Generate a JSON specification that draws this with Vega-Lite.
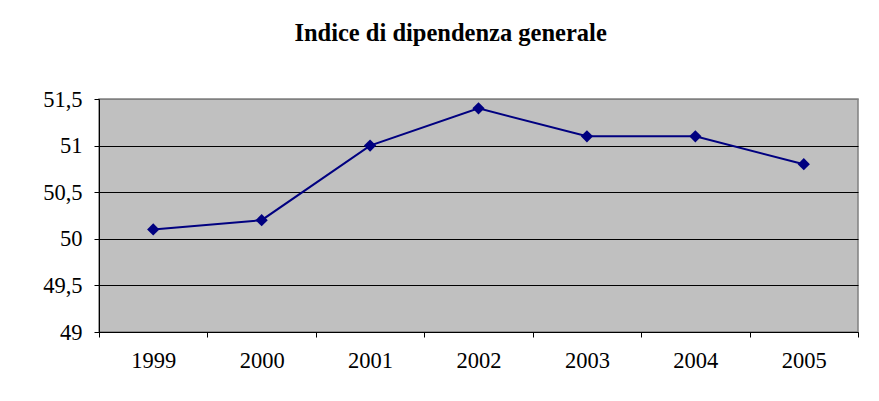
{
  "$schema": "https://vega.github.io/schema/vega-lite/v6.json",
  "width": 759,
  "height": 233,
  "autosize": "none",
  "padding": {"left": 99, "top": 99, "right": 21, "bottom": 69},
  "background": "white",
  "title": {
    "text": "Indice di dipendenza generale",
    "font": "Liberation Serif",
    "fontSize": 24.5,
    "fontWeight": "bold",
    "color": "black",
    "anchor": "middle",
    "frame": "bounds",
    "offset": 42
  },
  "data": {
    "values": [
      {"anno": "1999", "valore": 50.1},
      {"anno": "2000", "valore": 50.2},
      {"anno": "2001", "valore": 51.0},
      {"anno": "2002", "valore": 51.4},
      {"anno": "2003", "valore": 51.1},
      {"anno": "2004", "valore": 51.1},
      {"anno": "2005", "valore": 50.8}
    ]
  },
  "encoding": {
    "x": {
      "field": "anno",
      "type": "ordinal",
      "scale": {"type": "band", "paddingInner": 0, "paddingOuter": 0},
      "axis": {
        "title": null,
        "labelAngle": 0,
        "tickBand": "extent",
        "domainColor": "black",
        "tickColor": "black",
        "tickSize": 5,
        "labelFont": "Liberation Serif",
        "labelFontSize": 22.5,
        "labelColor": "black",
        "labelPadding": 12,
        "grid": false
      }
    },
    "y": {
      "field": "valore",
      "type": "quantitative",
      "scale": {"domain": [49, 51.5], "zero": false, "nice": false},
      "axis": {
        "title": null,
        "values": [49, 49.5, 50, 50.5, 51, 51.5],
        "labelExpr": "replace(toString(datum.value), '.', ',')",
        "domainColor": "black",
        "tickColor": "black",
        "tickSize": 5,
        "labelFont": "Liberation Serif",
        "labelFontSize": 22.5,
        "labelColor": "black",
        "labelPadding": 12,
        "grid": true,
        "gridColor": {"condition": {"test": "datum.value === 51.5", "value": "#808080"}, "value": "black"},
        "gridOpacity": 1,
        "gridWidth": 1
      }
    }
  },
  "layer": [
    {
      "mark": {"type": "line", "color": "#000080", "strokeWidth": 2}
    },
    {
      "mark": {"type": "point", "shape": "diamond", "filled": true, "color": "#000080", "opacity": 1, "size": 150}
    }
  ],
  "config": {
    "view": {"fill": "#C0C0C0", "stroke": "#808080", "strokeWidth": 1.5}
  }
}
